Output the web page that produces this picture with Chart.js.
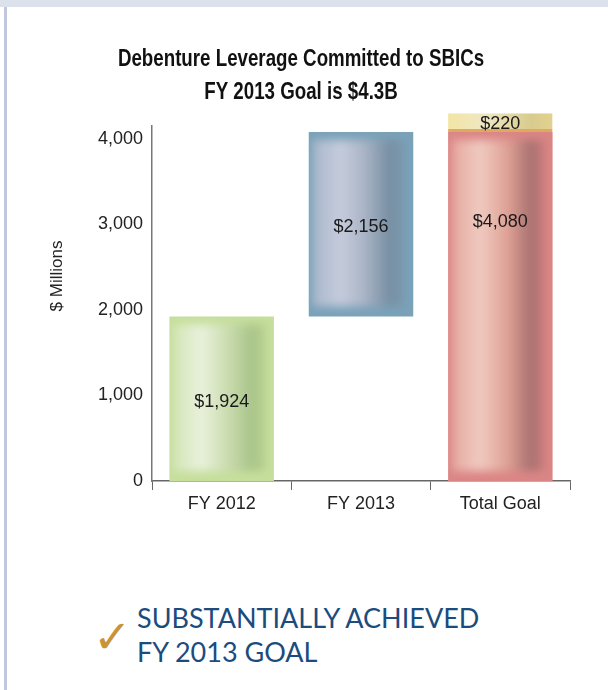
<!DOCTYPE html>
<html>
<head>
<meta charset="utf-8">
<script src="https://cdn.jsdelivr.net/npm/chart.js@4"></script>
<style>
  body { margin: 0; width: 608px; height: 690px; background: #fff; position: relative; overflow: hidden; }
  .topband { position: absolute; left: 0; top: 0; width: 608px; height: 7px; background: #dbe2ec; }
  .leftline { position: absolute; left: 4px; top: 7px; width: 3px; height: 683px; background: #c2c6de; }
  .wrap { position: absolute; left: 0; top: 0; width: 608px; height: 530px; }
  .goal { position: absolute; left: 137px; top: 601px; font-family: Lato, "Open Sans", sans-serif; font-size: 27px; line-height: 34px; color: #1b4c7e; }
  .check { position: absolute; left: 93px; top: 612px; font-family: "DejaVu Sans", sans-serif; font-size: 46px; line-height: 50px; font-weight: bold; color: #c8943a; }
</style>
</head>
<body>
<div class="topband"></div>
<div class="leftline"></div>
<div class="wrap"><canvas id="graficaLeverage"></canvas></div>
<div class="check">&#10003;</div>
<div class="goal">SUBSTANTIALLY ACHIEVED<br>FY 2013 GOAL</div>

<script>
// categorias y valores ($ millones)
var categorias = ["FY 2012", "FY 2013", "Total Goal"];
var comprometido = [1924, 2156, 4080];
var faltante = [null, null, 220];
var ticksY = [0, 1000, 2000, 3000, 4000];
var titulo = ["Debenture Leverage Committed to SBICs", "FY 2013 Goal is $4.3B"];
var tituloY = "$ Millions";

var fuente = "'Liberation Sans', Arial, sans-serif";

// barras flotantes: FY2012 desde 0, FY2013 encima de FY2012, total desde 0
var rangos = [
    [0, comprometido[0]],
    [comprometido[0], comprometido[0] + comprometido[1]],
    [0, comprometido[2]],
];
var rangosFaltante = faltante.map(function (v, i) {
    return v == null ? null : [comprometido[i], comprometido[i] + v];
});

// color de borde y degradado interior (efecto cilindro)
var bordes = ["#c6df9c", "#7aa2b9", "#db8686"];
var interiores = [
    [[0, "#d3e5b6"], [0.3, "#e9f1dc"], [0.58, "#cbddb0"], [0.85, "#a8c389"], [1, "#b9d391"]],
    [[0, "#a8b7cb"], [0.3, "#c6ccdc"], [0.55, "#abb5c7"], [0.84, "#768ea2"], [1, "#7c9cb2"]],
    [[0, "#e5a79f"], [0.3, "#f0cbc1"], [0.6, "#dfa195"], [0.85, "#a87170"], [1, "#c97d7c"]],
];
var coloresFaltante = [[0, "#f3e5a4"], [0.35, "#efe7c4"], [0.8, "#d8cb8d"], [1, "#e2d28e"]];

function degradado(ctx, stops) {
    var chart = ctx.chart;
    if (!chart.chartArea) return stops[0][1];
    var xs = chart.scales.x;
    var cx = xs.getPixelForValue(ctx.dataIndex);
    var w = xs.width / categorias.length * 0.75;
    var g = chart.ctx.createLinearGradient(cx - w / 2, 0, cx + w / 2, 0);
    stops.forEach(function (s) { g.addColorStop(s[0], s[1]); });
    return g;
}

// sombreado difuso dentro de cada barra principal
var sombreado = {
    id: "sombreado",
    afterDatasetDraw: function (chart, args) {
        if (args.index !== 0) return;
        var c = chart.ctx;
        args.meta.data.forEach(function (bar, i) {
            var p = bar.getProps(["x", "y", "base", "width"], true);
            var x0 = p.x - p.width / 2, top = Math.min(p.y, p.base), h = Math.abs(p.base - p.y);
            c.save();
            c.beginPath();
            c.rect(x0, top, p.width, h);
            c.clip();
            c.filter = "blur(4px)";
            var ix = x0 + 4, iw = p.width - 12;
            var g = c.createLinearGradient(ix, 0, ix + iw, 0);
            interiores[i].forEach(function (s) { g.addColorStop(s[0], s[1]); });
            c.fillStyle = g;
            c.fillRect(ix, top + 8, iw, h - 18);
            c.restore();
        });
    }
};

// titulo, titulo del eje y etiquetas de valor
var textos = {
    id: "textos",
    afterDraw: function (chart) {
        var c = chart.ctx;
        var ys = chart.scales.y;
        c.save();
        c.fillStyle = "#111";
        c.textAlign = "center";
        c.textBaseline = "alphabetic";
        c.font = "bold 24px " + fuente;
        var sx = 0.78;
        c.save();
        c.scale(sx, 1);
        c.fillText(titulo[0], 301 / sx, 66);
        c.fillText(titulo[1], 301 / sx, 99);
        c.restore();

        c.save();
        c.font = "17px " + fuente;
        c.fillStyle = "#222";
        c.textBaseline = "middle";
        c.translate(57, 276);
        c.rotate(-Math.PI / 2);
        c.fillText(tituloY, 0, 0);
        c.restore();

        c.font = "18px " + fuente;
        c.fillStyle = "#1a1a1a";
        c.textBaseline = "middle";
        chart.getDatasetMeta(0).data.forEach(function (bar, i) {
            var r = rangos[i];
            var v = i == 2 ? r[0] + (r[1] - r[0]) * 0.75 : (r[0] + r[1]) / 2;
            c.fillText("$" + comprometido[i].toLocaleString("en-US"), bar.x, ys.getPixelForValue(v) + 3);
        });
        chart.getDatasetMeta(1).data.forEach(function (bar, i) {
            var r = rangosFaltante[i];
            if (!r) return;
            c.fillText("$" + faltante[i].toLocaleString("en-US"), bar.x, ys.getPixelForValue((r[0] + r[1]) / 2) + 1);
        });
        c.restore();
    }
};

var canvas = document.getElementById("graficaLeverage");
canvas.width = 608;
canvas.height = 530;

new Chart(canvas, {
    type: "bar",
    data: {
        labels: categorias,
        datasets: [
            {
                data: rangos,
                grouped: false,
                clip: false,
                backgroundColor: bordes,
                borderWidth: 0,
                barPercentage: 0.75,
                categoryPercentage: 1,
            },
            {
                data: rangosFaltante,
                grouped: false,
                clip: false,
                backgroundColor: function (ctx) { return degradado(ctx, coloresFaltante); },
                borderColor: "#e2a95e",
                borderWidth: { bottom: 3, top: 0, left: 0, right: 0 },
                borderSkipped: false,
                barPercentage: 0.75,
                categoryPercentage: 1,
            },
        ],
    },
    options: {
        responsive: false,
        animation: false,
        devicePixelRatio: 1,
        layout: { padding: { left: 45, right: 38, top: 126, bottom: 0 } },
        plugins: {
            legend: { display: false },
            tooltip: { enabled: false },
            title: { display: false },
        },
        scales: {
            x: {
                grid: { display: true, drawOnChartArea: false, drawTicks: true, tickLength: 9, color: "#666", offset: true },
                border: { display: true, color: "#666", width: 1.5 },
                ticks: { color: "#222", font: { family: fuente, size: 18 }, padding: 3 },
                afterFit: function (scale) { scale.height = 49; },
            },
            y: {
                min: 0,
                max: 4150,
                grid: { display: false, drawTicks: false },
                border: { display: true, color: "#777", width: 1.5 },
                ticks: {
                    color: "#222",
                    font: { family: fuente, size: 18 },
                    padding: 9,
                    callback: function (v) { return v.toLocaleString("en-US"); },
                },
                afterBuildTicks: function (scale) {
                    scale.ticks = ticksY.map(function (v) { return { value: v }; });
                },
                afterFit: function (scale) { scale.width = 107; },
            },
        },
    },
    plugins: [sombreado, textos],
});
</script>
</body>
</html>
